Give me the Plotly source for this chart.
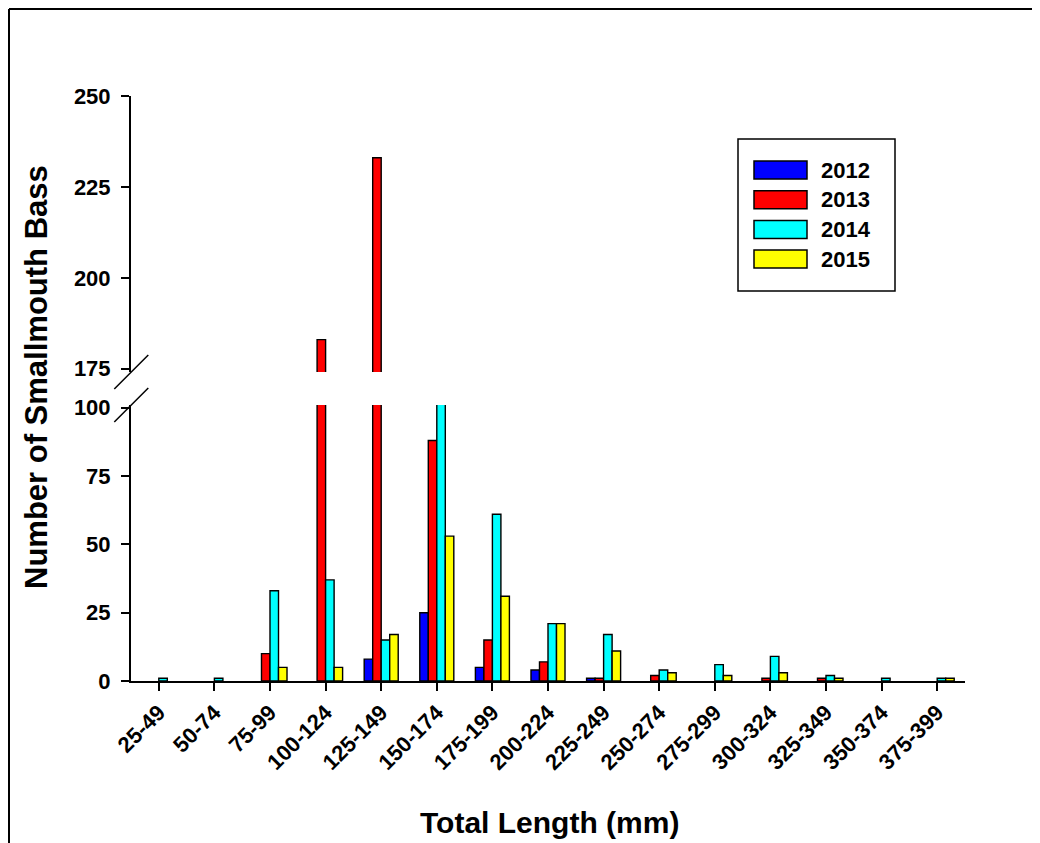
import plotly.graph_objects as go

categories = ["25-49", "50-74", "75-99", "100-124", "125-149", "150-174", "175-199",
              "200-224", "225-249", "250-274", "275-299", "300-324", "325-349",
              "350-374", "375-399"]
years = ["2012", "2013", "2014", "2015"]
counts_2012 = [0, 0, 0, 0, 8, 25, 5, 4, 1, 0, 0, 0, 0, 0, 0]
counts_2013 = [0, 0, 10, 183, 233, 88, 15, 7, 1, 2, 0, 1, 1, 0, 0]
counts_2014 = [1, 1, 33, 37, 15, 105, 61, 21, 17, 4, 6, 9, 2, 1, 1]
counts_2015 = [0, 0, 5, 5, 17, 53, 31, 21, 11, 3, 2, 3, 1, 0, 1]
series = [counts_2012, counts_2013, counts_2014, counts_2015]
colors = ["#0000FF", "#FF0000", "#00FFFF", "#FFFF00"]
lower_ticks = [0, 25, 50, 75, 100]
upper_ticks = [175, 200, 225, 250]

FONT = "Liberation Sans"
BW = 0.153

fig = go.Figure()
for i, (name, vals, col) in enumerate(zip(years, series, colors)):
    off = -2 * BW + i * BW
    shown = [v if v else None for v in vals]
    for xa, ya in (("x", "y"), ("x2", "y2")):
        fig.add_trace(go.Bar(
            x=categories, y=shown, name=name, xaxis=xa, yaxis=ya,
            width=BW, offset=off, showlegend=False,
            marker=dict(color=col, line=dict(color="black", width=1.4)),
        ))

# page offset (browser body margin) = 8 px
OFF = 8
W, H = 1032, 835
L, R, T = 131 - OFF, 75, 96 - OFF
B = H - (681 - OFF)
ph = H - T - B
pw = W - L - R


def px(x):
    return (x - 131) / pw


def py(y):
    return (681 - y) / ph


low_top = py(405)
up_bot = py(372)

tfont = dict(family=FONT, size=22, color="black", weight="bold")
axis_common = dict(showline=True, linecolor="black", linewidth=2, ticks="outside",
                   ticklen=8, tickwidth=2, tickcolor="black", showgrid=False,
                   zeroline=False, tickfont=tfont)

fig.update_layout(
    width=W, height=H, margin=dict(l=L, r=R, t=T, b=B, autoexpand=False),
    paper_bgcolor="white", plot_bgcolor="white", barmode="overlay",
    font=dict(family=FONT, color="black"),
    xaxis=dict(type="category", categoryorder="array", categoryarray=categories,
               range=[-0.5, 14.5], anchor="y", tickangle=-45, **axis_common),
    xaxis2=dict(matches="x", anchor="y2", visible=False),
    yaxis=dict(domain=[0, low_top], range=[0, 101], tickvals=lower_ticks,
               anchor="x", ticklabelstandoff=6, **axis_common),
    yaxis2=dict(domain=[up_bot, 1], range=[174.1, 250], tickvals=upper_ticks,
                anchor="x2", ticklabelstandoff=6, **axis_common),
)

# axis titles
fig.add_annotation(text="<b>Total Length (mm)</b>", x=px(549), y=py(822),
                   xref="paper", yref="paper", xanchor="center", yanchor="middle",
                   showarrow=False, font=dict(family=FONT, size=30, color="black"))
fig.add_annotation(text="<b>Number of Smallmouth Bass</b>", textangle=-90,
                   x=px(36), y=py(377), xref="paper", yref="paper",
                   xanchor="center", yanchor="middle", showarrow=False,
                   font=dict(family=FONT, size=31, color="black"))

# axis break marks
for yb in (405, 372):
    fig.add_shape(type="line", xref="paper", yref="paper",
                  x0=px(114.3), x1=px(148.3), y0=py(yb + 17), y1=py(yb - 17),
                  line=dict(color="black", width=1.5))

# legend box
fig.add_shape(type="rect", xref="paper", yref="paper", x0=px(738), x1=px(895),
              y0=py(291), y1=py(139), line=dict(color="black", width=1.5),
              fillcolor="white")
for i, (name, col) in enumerate(zip(years, colors)):
    yc = 170 + i * 29.7
    fig.add_shape(type="rect", xref="paper", yref="paper", x0=px(754), x1=px(807),
                  y0=py(yc + 9), y1=py(yc - 9), line=dict(color="black", width=1.5),
                  fillcolor=col)
    fig.add_annotation(text=f"<b>{name}</b>", x=px(819), y=py(yc), xref="paper",
                       yref="paper", xanchor="left", yanchor="middle", showarrow=False,
                       font=dict(family=FONT, size=22, color="black"))

# outer frame (left and top edges)
fig.add_shape(type="line", xref="paper", yref="paper", x0=px(9), x1=px(1045),
              y0=py(9), y1=py(9), line=dict(color="black", width=2))
fig.add_shape(type="line", xref="paper", yref="paper", x0=px(9), x1=px(9),
              y0=py(9), y1=py(850), line=dict(color="black", width=2))

fig.write_html("out.html")
